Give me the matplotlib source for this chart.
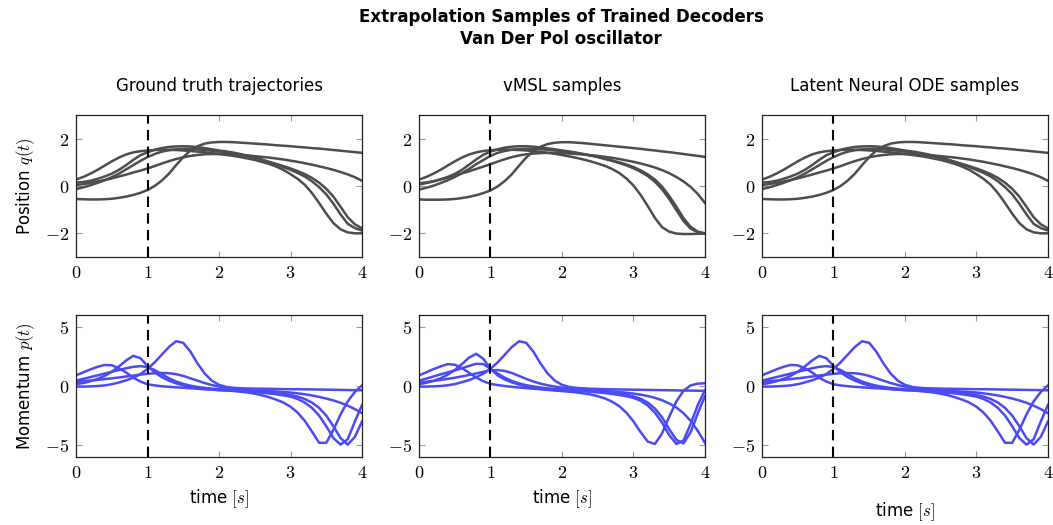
import matplotlib
matplotlib.use("Agg")
import matplotlib.pyplot as plt
import numpy as np

plt.rcParams['mathtext.fontset'] = 'cm'
plt.rcParams['font.family'] = ['DejaVu Sans']

# sample times
t = np.linspace(0, 4, 41)

# ground truth, position q(t): five trajectories
gt_q = [
    [-0.55, -0.56, -0.57, -0.57, -0.56, -0.54, -0.50, -0.45, -0.38, -0.29, -0.17,
     0.00, 0.23, 0.52, 0.88, 1.22, 1.50, 1.68, 1.79, 1.84, 1.86,
     1.86, 1.85, 1.83, 1.81, 1.79, 1.77, 1.75, 1.72, 1.70, 1.68,
     1.65, 1.63, 1.60, 1.58, 1.55, 1.52, 1.49, 1.46, 1.43, 1.40],
    [0.27, 0.38, 0.52, 0.68, 0.86, 1.04, 1.20, 1.33, 1.42, 1.47, 1.50,
     1.52, 1.53, 1.53, 1.52, 1.50, 1.48, 1.45, 1.42, 1.39, 1.35,
     1.31, 1.27, 1.22, 1.16, 1.10, 1.02, 0.93, 0.82, 0.68, 0.50,
     0.30, 0.05, -0.30, -0.72, -1.17, -1.57, -1.83, -1.96, -2.00, -2.00],
    [0.14, 0.17, 0.22, 0.30, 0.40, 0.52, 0.68, 0.88, 1.10, 1.30, 1.42,
     1.53, 1.60, 1.65, 1.67, 1.68, 1.67, 1.64, 1.60, 1.55, 1.50,
     1.46, 1.41, 1.35, 1.28, 1.20, 1.11, 1.01, 0.91, 0.80, 0.68,
     0.55, 0.40, 0.20, -0.05, -0.35, -0.75, -1.20, -1.60, -1.78, -1.88],
    [-0.13, -0.06, 0.03, 0.13, 0.24, 0.37, 0.52, 0.70, 0.88, 1.06, 1.22,
     1.35, 1.45, 1.51, 1.55, 1.57, 1.57, 1.55, 1.52, 1.49, 1.45,
     1.41, 1.37, 1.32, 1.26, 1.19, 1.11, 1.02, 0.93, 0.84, 0.74,
     0.63, 0.50, 0.34, 0.14, -0.12, -0.45, -0.88, -1.32, -1.62, -1.79],
    [0.04, 0.08, 0.13, 0.19, 0.25, 0.32, 0.40, 0.48, 0.57, 0.65, 0.74,
     0.84, 0.95, 1.05, 1.14, 1.21, 1.27, 1.31, 1.34, 1.35, 1.35,
     1.34, 1.33, 1.31, 1.29, 1.26, 1.23, 1.20, 1.16, 1.12, 1.07,
     1.02, 0.96, 0.90, 0.83, 0.76, 0.68, 0.59, 0.49, 0.37, 0.22],
]

# ground truth, momentum p(t)
gt_p = [
    [-0.05, -0.05, -0.03, 0.00, 0.05, 0.15, 0.30, 0.48, 0.70, 1.00, 1.45,
     2.00, 2.65, 3.30, 3.78, 3.65, 2.90, 1.90, 1.05, 0.45, 0.10,
     -0.08, -0.15, -0.19, -0.21, -0.22, -0.23, -0.24, -0.25, -0.26, -0.27,
     -0.27, -0.28, -0.29, -0.30, -0.31, -0.32, -0.33, -0.34, -0.35, -0.36],
    [0.90, 1.15, 1.40, 1.62, 1.78, 1.75, 1.50, 1.15, 0.70, 0.38, 0.15,
     0.05, -0.02, -0.07, -0.11, -0.15, -0.19, -0.23, -0.27, -0.31, -0.35,
     -0.38, -0.42, -0.48, -0.55, -0.65, -0.78, -0.95, -1.15, -1.40, -1.75,
     -2.25, -2.95, -3.85, -4.80, -4.80, -3.70, -2.40, -1.30, -0.50, 0.05],
    [0.15, 0.25, 0.40, 0.60, 0.85, 1.20, 1.65, 2.15, 2.55, 2.35, 1.70,
     1.15, 0.75, 0.45, 0.22, 0.05, -0.08, -0.17, -0.25, -0.30, -0.34,
     -0.37, -0.40, -0.43, -0.47, -0.52, -0.57, -0.63, -0.70, -0.79, -0.90,
     -1.10, -1.40, -1.85, -2.50, -3.40, -4.40, -4.95, -4.50, -3.00, -1.60],
    [0.45, 0.60, 0.75, 0.90, 1.05, 1.20, 1.35, 1.50, 1.62, 1.68, 1.60,
     1.35, 1.00, 0.65, 0.38, 0.18, 0.03, -0.08, -0.16, -0.22, -0.27,
     -0.30, -0.33, -0.36, -0.39, -0.43, -0.47, -0.52, -0.58, -0.66, -0.76,
     -0.90, -1.10, -1.40, -1.85, -2.50, -3.40, -4.40, -4.95, -4.30, -3.00],
    [0.35, 0.40, 0.46, 0.52, 0.58, 0.65, 0.72, 0.80, 0.88, 0.96, 1.03,
     1.08, 1.10, 1.08, 1.00, 0.85, 0.65, 0.45, 0.25, 0.08, -0.05,
     -0.15, -0.22, -0.28, -0.33, -0.38, -0.41, -0.44, -0.47, -0.50, -0.55,
     -0.62, -0.70, -0.80, -0.92, -1.06, -1.22, -1.42, -1.66, -1.95, -2.30],
]

# vMSL samples, position
vmsl_q = [
    [-0.57, -0.58, -0.58, -0.58, -0.57, -0.55, -0.51, -0.46, -0.39, -0.30, -0.19,
     -0.02, 0.21, 0.50, 0.86, 1.20, 1.48, 1.66, 1.77, 1.83, 1.85,
     1.85, 1.83, 1.81, 1.78, 1.75, 1.72, 1.69, 1.66, 1.63, 1.60,
     1.57, 1.53, 1.50, 1.46, 1.43, 1.39, 1.35, 1.31, 1.27, 1.23],
    [0.27, 0.38, 0.52, 0.68, 0.86, 1.04, 1.20, 1.33, 1.42, 1.48, 1.51,
     1.53, 1.54, 1.53, 1.52, 1.50, 1.47, 1.44, 1.40, 1.36, 1.31,
     1.25, 1.19, 1.12, 1.04, 0.95, 0.85, 0.72, 0.55, 0.32, 0.02,
     -0.38, -0.85, -1.35, -1.74, -1.93, -2.01, -2.03, -2.03, -2.02, -2.01],
    [0.12, 0.15, 0.20, 0.28, 0.38, 0.51, 0.68, 0.90, 1.12, 1.32, 1.45,
     1.55, 1.62, 1.66, 1.68, 1.68, 1.66, 1.63, 1.59, 1.55, 1.50,
     1.46, 1.41, 1.35, 1.29, 1.22, 1.14, 1.06, 0.97, 0.87, 0.75,
     0.60, 0.42, 0.18, -0.14, -0.55, -1.02, -1.48, -1.80, -1.96, -2.01],
    [-0.15, -0.08, 0.01, 0.12, 0.24, 0.38, 0.54, 0.72, 0.92, 1.10, 1.27,
     1.40, 1.48, 1.53, 1.56, 1.57, 1.57, 1.55, 1.53, 1.50, 1.47,
     1.43, 1.39, 1.34, 1.29, 1.23, 1.16, 1.08, 1.00, 0.91, 0.80,
     0.66, 0.49, 0.27, -0.03, -0.42, -0.88, -1.36, -1.73, -1.93, -2.00],
    [0.06, 0.12, 0.19, 0.27, 0.35, 0.44, 0.53, 0.62, 0.72, 0.82, 0.92,
     1.03, 1.13, 1.22, 1.29, 1.34, 1.37, 1.39, 1.40, 1.40, 1.39,
     1.37, 1.35, 1.33, 1.30, 1.27, 1.23, 1.19, 1.14, 1.08, 1.02,
     0.95, 0.87, 0.78, 0.67, 0.54, 0.38, 0.19, -0.04, -0.34, -0.72],
]

# vMSL samples, momentum
vmsl_p = [
    [-0.05, -0.05, -0.03, 0.00, 0.06, 0.16, 0.32, 0.50, 0.74, 1.05, 1.45,
     2.00, 2.65, 3.30, 3.78, 3.65, 2.90, 1.90, 1.05, 0.45, 0.10,
     -0.08, -0.16, -0.20, -0.23, -0.25, -0.27, -0.28, -0.29, -0.30, -0.31,
     -0.32, -0.33, -0.34, -0.35, -0.36, -0.37, -0.38, -0.39, -0.40, -0.41],
    [0.90, 1.15, 1.42, 1.65, 1.85, 1.80, 1.52, 1.12, 0.72, 0.40, 0.18,
     0.08, 0.00, -0.07, -0.13, -0.18, -0.23, -0.28, -0.33, -0.38, -0.43,
     -0.48, -0.54, -0.62, -0.72, -0.86, -1.05, -1.32, -1.70, -2.25, -3.00,
     -3.90, -4.70, -4.90, -4.00, -2.60, -1.30, -0.40, 0.05, 0.20, 0.23],
    [0.15, 0.27, 0.43, 0.65, 0.95, 1.35, 1.85, 2.40, 2.72, 2.30, 1.45,
     0.90, 0.55, 0.30, 0.12, -0.02, -0.12, -0.20, -0.26, -0.31, -0.35,
     -0.38, -0.41, -0.45, -0.49, -0.54, -0.60, -0.67, -0.76, -0.87, -1.00,
     -1.25, -1.65, -2.25, -3.10, -4.15, -4.90, -4.60, -3.20, -1.60, -0.35],
    [0.45, 0.62, 0.80, 0.98, 1.15, 1.32, 1.50, 1.70, 1.88, 1.85, 1.45,
     1.05, 0.70, 0.42, 0.22, 0.07, -0.04, -0.13, -0.20, -0.25, -0.29,
     -0.32, -0.35, -0.38, -0.42, -0.46, -0.51, -0.57, -0.64, -0.74, -0.88,
     -1.08, -1.40, -1.90, -2.65, -3.65, -4.55, -4.85, -3.90, -2.30, -0.85],
    [0.30, 0.36, 0.43, 0.51, 0.60, 0.70, 0.81, 0.93, 1.06, 1.20, 1.32,
     1.35, 1.27, 1.10, 0.85, 0.60, 0.38, 0.20, 0.06, -0.05, -0.13,
     -0.20, -0.25, -0.30, -0.34, -0.38, -0.42, -0.46, -0.51, -0.57, -0.64,
     -0.73, -0.85, -1.00, -1.20, -1.47, -1.82, -2.30, -2.95, -3.80, -4.80],
]

# the latent neural ODE panels read the same as the ground truth
node_q = [row[:] for row in gt_q]
node_p = [row[:] for row in gt_p]

col_titles = ['Ground truth trajectories', 'vMSL samples', 'Latent Neural ODE samples']
q_sets = [gt_q, vmsl_q, node_q]
p_sets = [gt_p, vmsl_p, node_p]

gray = '#4d4d4d'
blue = '#4b4bf5'

fig = plt.figure(figsize=(10.53, 5.25), dpi=100)
fig.suptitle('Extrapolation Samples of Trained Decoders\nVan Der Pol oscillator',
             fontsize=12, fontweight='bold', y=0.985, x=0.533, linespacing=1.3)

lefts = [0.0722, 0.3979, 0.7236]
w, h = 0.2716, 0.2705


def style(ax, yticks, ylim):
    ax.set_xlim(0, 4)
    ax.set_ylim(*ylim)
    ax.set_xticks(range(5), labels=[f'${v}$' for v in range(5)])
    ax.set_yticks(yticks, labels=[f'${v}$' for v in yticks])
    ax.tick_params(direction='in', top=True, right=True, length=4,
                   color='#9a9a9a', labelsize=13, pad=5)
    for s in ax.spines.values():
        s.set_color('#222222')
        s.set_linewidth(0.9)
    ax.axvline(1, color='black', lw=1.5, ls=(0, (5, 3)), zorder=3)


for i in range(3):
    ax_q = fig.add_axes([lefts[i], 0.5105, w, h])
    for row in q_sets[i]:
        ax_q.plot(t, row, color=gray, lw=1.8)
    style(ax_q, [-2, 0, 2], (-3, 3))
    ax_q.set_title(col_titles[i], fontsize=12, pad=17)

    ax_p = fig.add_axes([lefts[i], 0.1295, w, h])
    for row in p_sets[i]:
        ax_p.plot(t, row, color=blue, lw=1.8)
    style(ax_p, [-5, 0, 5], (-6, 6))
    ax_p.set_xlabel('time $[s]$', fontsize=12, labelpad=13 if i == 2 else 4)

    if i == 0:
        ax_q.set_ylabel('Position $q(t)$', fontsize=12, labelpad=6)
        ax_p.set_ylabel('Momentum $p(t)$', fontsize=12, labelpad=6)

fig.savefig('out.png', dpi=100)
